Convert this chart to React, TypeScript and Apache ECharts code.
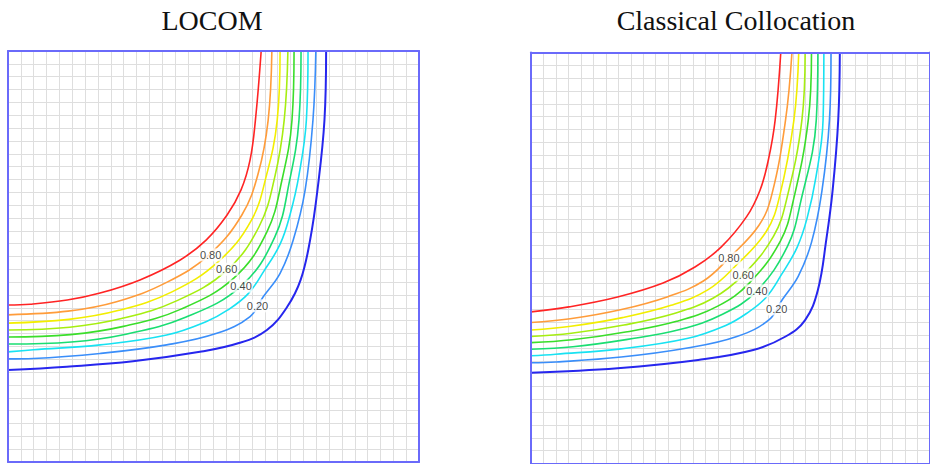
import React, { useEffect, useRef } from "react";
import * as echarts from "echarts";

// Panel titles
const TITLES = ["LOCOM", "Classical Collocation"];

// Contour levels (order: 0.9 ... 0.1) and labelled levels
const LEVELS = [0.9, 0.8, 0.7, 0.6, 0.5, 0.4, 0.3, 0.2, 0.1];
const LABEL_TEXTS = ["0.80", "0.60", "0.40", "0.20"];

// Domain: unit square, 32 x 32 mesh lines
const DOMAIN_MIN = 0;
const DOMAIN_MAX = 1;
const MESH_STEP = 1 / 32;

// ---- LOCOM contours, [x, y] in the unit square ----
const locom90 = [[0.616, 1.0], [0.602, 0.832], [0.589, 0.735], [0.567, 0.662], [0.533, 0.601], [0.482, 0.54], [0.418, 0.491], [0.321, 0.443], [0.224, 0.411], [0.144, 0.394], [0.054, 0.384], [0.0, 0.382]];
const locom80 = [[0.642, 1.0], [0.633, 0.832], [0.609, 0.703], [0.569, 0.601], [0.489, 0.504], [0.386, 0.437], [0.264, 0.39], [0.146, 0.367], [0.0, 0.358]];
const locom70 = [[0.662, 1.0], [0.655, 0.832], [0.629, 0.698], [0.591, 0.586], [0.511, 0.487], [0.399, 0.414], [0.27, 0.369], [0.148, 0.347], [0.0, 0.338]];
const locom60 = [[0.681, 1.0], [0.672, 0.832], [0.649, 0.693], [0.611, 0.573], [0.533, 0.467], [0.41, 0.392], [0.276, 0.349], [0.15, 0.328], [0.0, 0.321]];
const locom50 = [[0.696, 1.0], [0.691, 0.832], [0.667, 0.688], [0.63, 0.56], [0.55, 0.448], [0.421, 0.372], [0.281, 0.33], [0.152, 0.31], [0.0, 0.304]];
const locom40 = [[0.713, 1.0], [0.708, 0.832], [0.685, 0.684], [0.649, 0.547], [0.567, 0.428], [0.432, 0.352], [0.287, 0.311], [0.154, 0.292], [0.0, 0.287]];
const locom30 = [[0.73, 1.0], [0.726, 0.832], [0.708, 0.698], [0.686, 0.601], [0.662, 0.53], [0.623, 0.465], [0.584, 0.409], [0.535, 0.37], [0.483, 0.342], [0.386, 0.309], [0.224, 0.285], [0.062, 0.273], [0.0, 0.268]];
const locom20 = [[0.749, 1.0], [0.742, 0.832], [0.723, 0.662], [0.694, 0.54], [0.662, 0.459], [0.621, 0.402], [0.589, 0.354], [0.508, 0.313], [0.386, 0.285], [0.224, 0.264], [0.062, 0.252], [0.0, 0.251]];
const locom10 = [[0.774, 1.0], [0.77, 0.832], [0.753, 0.662], [0.735, 0.54], [0.712, 0.443], [0.679, 0.377], [0.63, 0.321], [0.564, 0.29], [0.467, 0.268], [0.304, 0.245], [0.143, 0.232], [0.0, 0.224]];
const LOCOM_LABEL_POS = [[0.493, 0.504], [0.532, 0.469], [0.567, 0.428], [0.607, 0.38]];

// ---- Classical collocation contours ----
const colloc90 = [[0.626, 1.0], [0.612, 0.836], [0.595, 0.739], [0.574, 0.665], [0.54, 0.6], [0.477, 0.527], [0.411, 0.478], [0.331, 0.439], [0.217, 0.405], [0.095, 0.381], [0.0, 0.369]];
const colloc80 = [[0.654, 1.0], [0.638, 0.836], [0.604, 0.656], [0.571, 0.579], [0.496, 0.5], [0.432, 0.444], [0.343, 0.406], [0.224, 0.374], [0.098, 0.352], [0.0, 0.343]];
const colloc70 = [[0.671, 1.0], [0.659, 0.836], [0.623, 0.65], [0.59, 0.565], [0.513, 0.481], [0.444, 0.423], [0.351, 0.385], [0.229, 0.355], [0.1, 0.334], [0.0, 0.325]];
const colloc60 = [[0.687, 1.0], [0.679, 0.836], [0.641, 0.644], [0.608, 0.553], [0.532, 0.459], [0.456, 0.402], [0.359, 0.365], [0.233, 0.337], [0.101, 0.317], [0.0, 0.309]];
const colloc50 = [[0.703, 1.0], [0.695, 0.836], [0.657, 0.638], [0.625, 0.541], [0.547, 0.439], [0.468, 0.383], [0.365, 0.346], [0.237, 0.32], [0.103, 0.301], [0.0, 0.294]];
const colloc40 = [[0.719, 1.0], [0.715, 0.836], [0.675, 0.633], [0.643, 0.529], [0.566, 0.42], [0.48, 0.363], [0.373, 0.326], [0.242, 0.302], [0.105, 0.284], [0.0, 0.278]];
const colloc30 = [[0.734, 1.0], [0.732, 0.836], [0.714, 0.696], [0.692, 0.597], [0.667, 0.526], [0.628, 0.46], [0.589, 0.404], [0.54, 0.365], [0.488, 0.336], [0.391, 0.304], [0.226, 0.279], [0.062, 0.266], [0.0, 0.262]];
const colloc20 = [[0.752, 1.0], [0.748, 0.836], [0.729, 0.662], [0.703, 0.538], [0.67, 0.456], [0.63, 0.399], [0.597, 0.35], [0.516, 0.309], [0.392, 0.281], [0.226, 0.259], [0.063, 0.247], [0.0, 0.245]];
const colloc10 = [[0.774, 1.0], [0.77, 0.836], [0.756, 0.665], [0.74, 0.544], [0.719, 0.422], [0.687, 0.349], [0.638, 0.309], [0.557, 0.276], [0.419, 0.252], [0.217, 0.232], [0.0, 0.221]];
const COLLOC_LABEL_POS = [[0.496, 0.5], [0.532, 0.459], [0.566, 0.42], [0.616, 0.376]];

const LOCOM_LINES = [locom90, locom80, locom70, locom60, locom50, locom40, locom30, locom20, locom10];
const COLLOC_LINES = [colloc90, colloc80, colloc70, colloc60, colloc50, colloc40, colloc30, colloc20, colloc10];

// Styles
const LEVEL_COLORS = ["#ff2424", "#ff9c3a", "#f2ee00", "#a6ee10", "#3ade2a", "#1ade72", "#18e2f2", "#3a8efa", "#2626ee"];
const BORDER_COLOR = "#6a6afa";
const MESH_COLOR = "#dedede";

const PANELS = [
  { title: TITLES[0], lines: LOCOM_LINES, labels: LOCOM_LABEL_POS, rect: { left: 8, top: 51, width: 411, height: 411 }, titleX: 212 },
  { title: TITLES[1], lines: COLLOC_LINES, labels: COLLOC_LABEL_POS, rect: { left: 531, top: 52.5, width: 411, height: 411 }, titleX: 736 },
];

function buildOption() {
  const grid: any[] = [];
  const xAxis: any[] = [];
  const yAxis: any[] = [];
  const series: any[] = [];
  const title: any[] = [];

  PANELS.forEach((p, g) => {
    grid.push({ ...p.rect, show: true, backgroundColor: "#ffffff", borderWidth: 0 });
    title.push({
      text: p.title,
      left: p.titleX,
      top: 6,
      textAlign: "center",
      padding: 0,
      textStyle: { fontFamily: "Liberation Serif", fontSize: 28, fontWeight: "normal", color: "#111" },
    });
    const base = {
      type: "value",
      gridIndex: g,
      min: DOMAIN_MIN,
      max: DOMAIN_MAX,
      interval: MESH_STEP,
      axisTick: { show: false },
      axisLabel: { show: false },
    };
    const meshAxis = {
      ...base,
      axisLine: { show: false },
      splitLine: { show: true, lineStyle: { color: MESH_COLOR, width: 1 } },
      z: 0,
    };
    const borderAxis = (position: string) => ({
      ...base,
      position,
      axisLine: { show: true, onZero: false, lineStyle: { color: BORDER_COLOR, width: 2 } },
      splitLine: { show: false },
      z: 6,
    });
    xAxis.push(meshAxis, borderAxis("bottom"), borderAxis("top"));
    yAxis.push(meshAxis, borderAxis("left"), borderAxis("right"));

    p.lines.forEach((pts, i) => {
      series.push({
        type: "line",
        name: `${p.title} ${LEVELS[i].toFixed(1)}`,
        xAxisIndex: g * 3,
        yAxisIndex: g * 3,
        data: pts,
        smooth: 0.4,
        symbol: "none",
        silent: true,
        clip: true,
        lineStyle: { color: LEVEL_COLORS[i], width: i === LEVELS.length - 1 ? 2 : 1.6 },
        z: 2,
      });
    });

    series.push({
      type: "scatter",
      xAxisIndex: g * 3,
      yAxisIndex: g * 3,
      symbolSize: 1,
      silent: true,
      itemStyle: { color: "rgba(0,0,0,0)" },
      data: p.labels.map((pt, i) => ({ value: pt, label: { formatter: LABEL_TEXTS[i] } })),
      label: {
        show: true,
        position: "inside",
        fontFamily: "Liberation Sans",
        fontSize: 11,
        color: "#111",
        backgroundColor: "#ffffff",
        padding: [1, 1],
      },
      z: 4,
    });
  });

  return { animation: false, backgroundColor: "#ffffff", title, grid, xAxis, yAxis, series };
}

export default function App() {
  const ref = useRef<HTMLDivElement>(null);
  useEffect(() => {
    if (!ref.current) return;
    const chart = echarts.init(ref.current, undefined, { renderer: "svg" });
    chart.setOption(buildOption());
    return () => chart.dispose();
  }, []);
  return <div ref={ref} style={{ position: "absolute", left: 0, top: 0, width: 930, height: 464 }} />;
}
